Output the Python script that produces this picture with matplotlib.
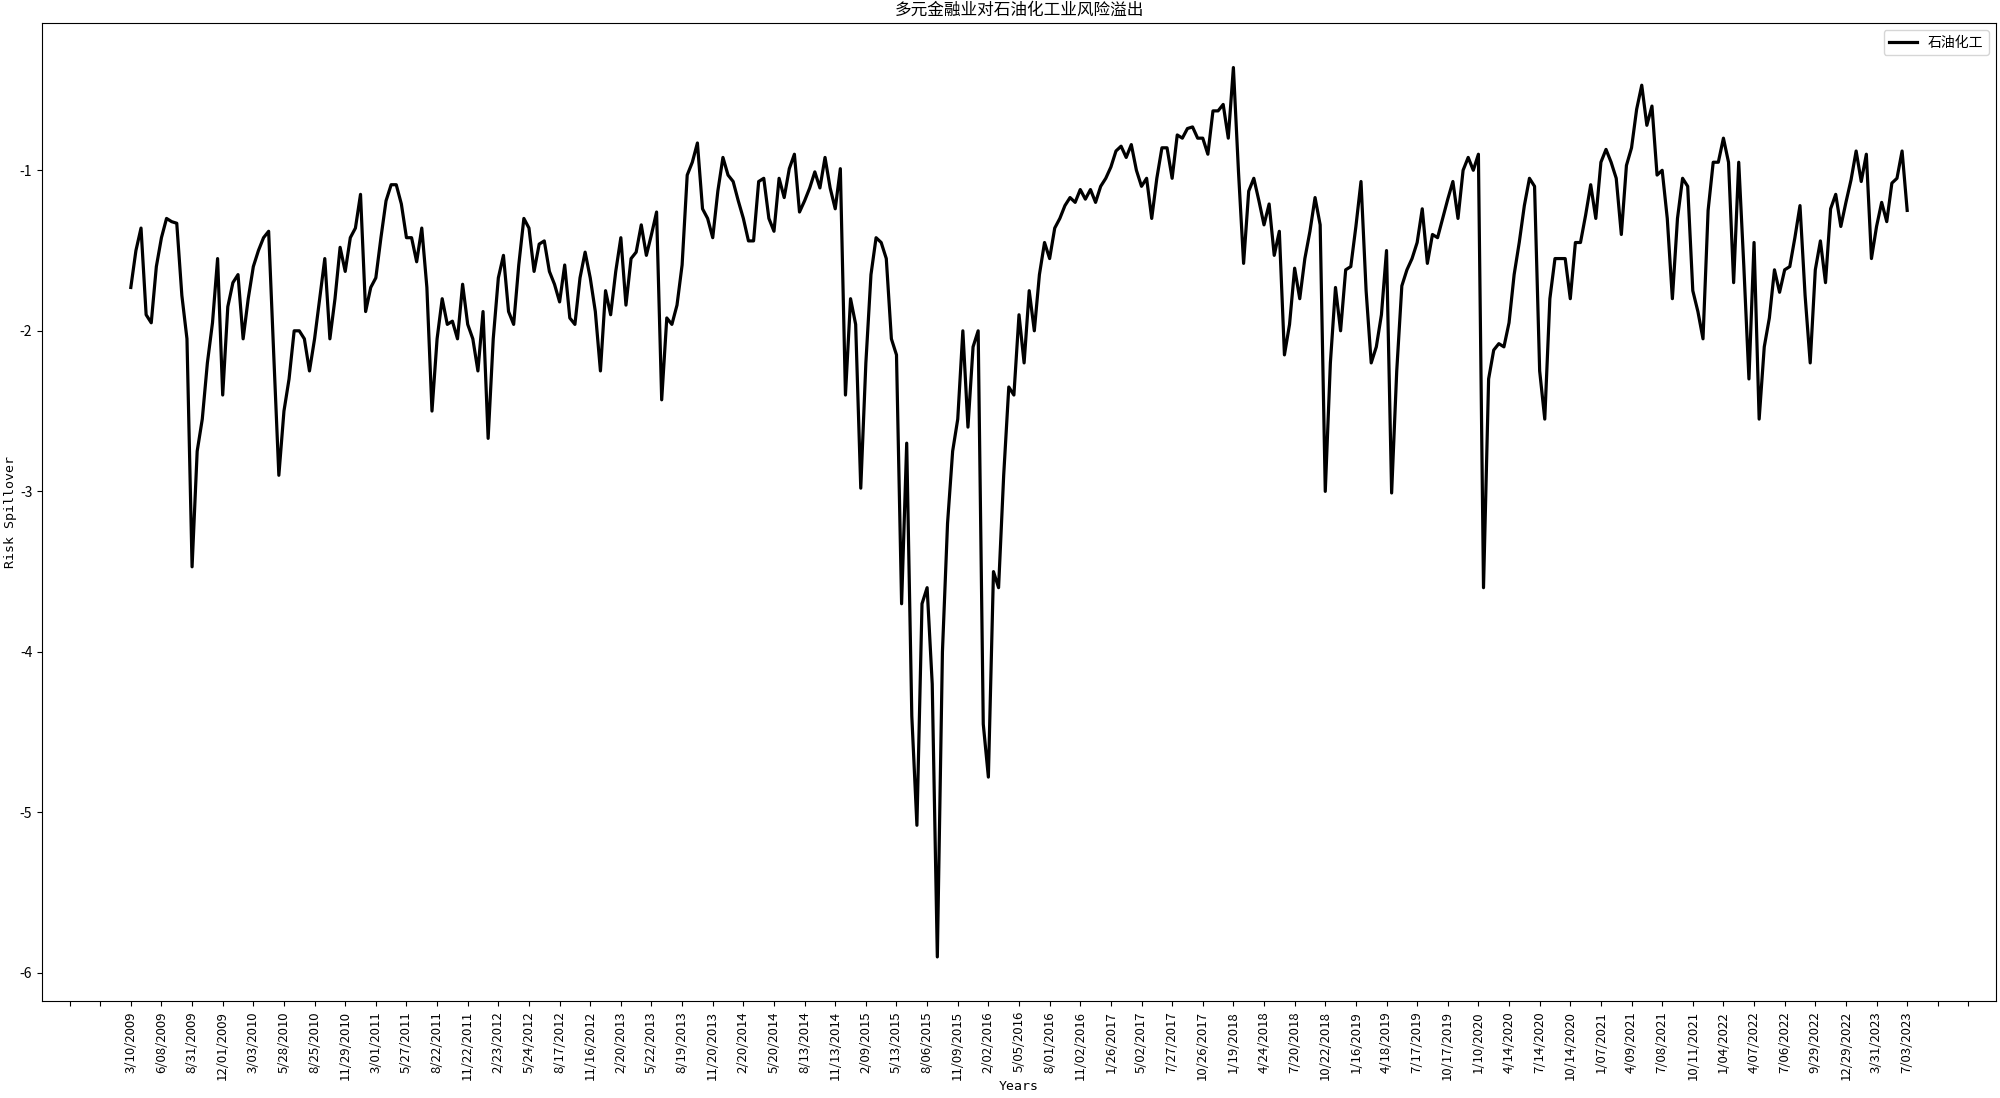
import numpy as np
import matplotlib.pyplot as plt
from matplotlib.ticker import MultipleLocator

plt.rcParams['font.family'] = ['Noto Sans CJK SC', 'DejaVu Sans']
plt.rcParams['axes.unicode_minus'] = False

# 每10个交易日取一个点
step = 10
tick_every = 60

spillover = [
    -1.73, -1.50, -1.36, -1.90, -1.95, -1.60, -1.42, -1.30, -1.32, -1.33,
    -1.78, -2.05, -3.47, -2.75, -2.55, -2.20, -1.95, -1.55, -2.40, -1.85,
    -1.70, -1.65, -2.05, -1.80, -1.60, -1.50, -1.42, -1.38, -2.15, -2.90,
    -2.50, -2.30, -2.00, -2.00, -2.05, -2.25, -2.05, -1.80, -1.55, -2.05,
    -1.80, -1.48, -1.63, -1.42, -1.36, -1.15, -1.88, -1.73, -1.67, -1.42,
    -1.19, -1.09, -1.09, -1.21, -1.42, -1.42, -1.57, -1.36, -1.73, -2.50,
    -2.05, -1.80, -1.96, -1.94, -2.05, -1.71, -1.96, -2.05, -2.25, -1.88,
    -2.67, -2.05, -1.67, -1.53, -1.88, -1.96, -1.59, -1.30, -1.36, -1.63,
    -1.46, -1.44, -1.63, -1.71, -1.82, -1.59, -1.92, -1.96, -1.67, -1.51,
    -1.67, -1.88, -2.25, -1.75, -1.90, -1.63, -1.42, -1.84, -1.55, -1.51,
    -1.34, -1.53, -1.40, -1.26, -2.43, -1.92, -1.96, -1.84, -1.59, -1.03,
    -0.95, -0.83, -1.24, -1.30, -1.42, -1.13, -0.92, -1.03, -1.07, -1.19,
    -1.30, -1.44, -1.44, -1.07, -1.05, -1.30, -1.38, -1.05, -1.17, -0.99,
    -0.90, -1.26, -1.19, -1.11, -1.01, -1.11, -0.92, -1.11, -1.24, -0.99,
    -2.40, -1.80, -1.96, -2.98, -2.20, -1.65, -1.42, -1.45, -1.55, -2.05,
    -2.15, -3.70, -2.70, -4.40, -5.08, -3.70, -3.60, -4.20, -5.90, -4.00,
    -3.20, -2.75, -2.55, -2.00, -2.60, -2.10, -2.00, -4.45, -4.78, -3.50,
    -3.60, -2.90, -2.35, -2.40, -1.90, -2.20, -1.75, -2.00, -1.65, -1.45,
    -1.55, -1.36, -1.30, -1.22, -1.17, -1.20, -1.12, -1.18, -1.12, -1.20,
    -1.10, -1.05, -0.98, -0.88, -0.85, -0.92, -0.84, -1.00, -1.10, -1.05,
    -1.30, -1.05, -0.86, -0.86, -1.05, -0.78, -0.80, -0.74, -0.73, -0.80,
    -0.80, -0.90, -0.63, -0.63, -0.59, -0.80, -0.36, -1.01, -1.58, -1.13,
    -1.05, -1.19, -1.34, -1.21, -1.53, -1.38, -2.15, -1.96, -1.61, -1.80,
    -1.55, -1.38, -1.17, -1.34, -3.00, -2.20, -1.73, -2.00, -1.62, -1.60,
    -1.35, -1.07, -1.75, -2.20, -2.10, -1.90, -1.50, -3.01, -2.25, -1.72,
    -1.62, -1.55, -1.45, -1.24, -1.58, -1.40, -1.42, -1.30, -1.18, -1.07,
    -1.30, -1.00, -0.92, -1.00, -0.90, -3.60, -2.30, -2.12, -2.08, -2.10,
    -1.95, -1.65, -1.45, -1.22, -1.05, -1.10, -2.25, -2.55, -1.80, -1.55,
    -1.55, -1.55, -1.80, -1.45, -1.45, -1.28, -1.09, -1.30, -0.95, -0.87,
    -0.95, -1.05, -1.40, -0.97, -0.86, -0.62, -0.47, -0.72, -0.60, -1.03,
    -1.00, -1.30, -1.80, -1.30, -1.05, -1.10, -1.75, -1.88, -2.05, -1.25,
    -0.95, -0.95, -0.80, -0.95, -1.70, -0.95, -1.60, -2.30, -1.45, -2.55,
    -2.10, -1.92, -1.62, -1.76, -1.62, -1.60, -1.42, -1.22, -1.78, -2.20,
    -1.62, -1.44, -1.70, -1.24, -1.15, -1.35, -1.20, -1.06, -0.88, -1.07,
    -0.90, -1.55, -1.35, -1.20, -1.32, -1.08, -1.05, -0.88, -1.25,
]

dates = [
    '3/10/2009', '6/08/2009', '8/31/2009', '12/01/2009', '3/03/2010', '5/28/2010',
    '8/25/2010', '11/29/2010', '3/01/2011', '5/27/2011', '8/22/2011', '11/22/2011',
    '2/23/2012', '5/24/2012', '8/17/2012', '11/16/2012', '2/20/2013', '5/22/2013',
    '8/19/2013', '11/20/2013', '2/20/2014', '5/20/2014', '8/13/2014', '11/13/2014',
    '2/09/2015', '5/13/2015', '8/06/2015', '11/09/2015', '2/02/2016', '5/05/2016',
    '8/01/2016', '11/02/2016', '1/26/2017', '5/02/2017', '7/27/2017', '10/26/2017',
    '1/19/2018', '4/24/2018', '7/20/2018', '10/22/2018', '1/16/2019', '4/18/2019',
    '7/17/2019', '10/17/2019', '1/10/2020', '4/14/2020', '7/14/2020', '10/14/2020',
    '1/07/2021', '4/09/2021', '7/08/2021', '10/11/2021', '1/04/2022', '4/07/2022',
    '7/06/2022', '9/29/2022', '12/29/2022', '3/31/2023', '7/03/2023',
]

days = np.arange(len(spillover)) * step

fig, ax = plt.subplots(figsize=(20, 10.98), dpi=100)
fig.subplots_adjust(left=0.021, right=0.998, top=0.979, bottom=0.088)

ax.plot(days, spillover, color='black', linewidth=2.3, label='石油化工')

ax.xaxis.set_major_locator(MultipleLocator(tick_every))
ticks = np.arange(-2, len(dates) + 2) * tick_every
ax.set_xticks(ticks)
ax.set_xticklabels(['', ''] + dates + ['', ''], rotation=90, fontsize=9.5)
ax.tick_params(axis='y', labelsize=10)
ax.set_xlim(days[0] - 0.05 * days[-1], days[-1] * 1.05)

ax.set_title('多元金融业对石油化工业风险溢出')
ax.set_xlabel('Years', family='DejaVu Sans Mono', fontsize=9.5, labelpad=0)
ax.set_ylabel('Risk Spillover', family='DejaVu Sans Mono', fontsize=9.5, labelpad=2)
ax.legend(loc='upper right')

plt.savefig('out.png')
